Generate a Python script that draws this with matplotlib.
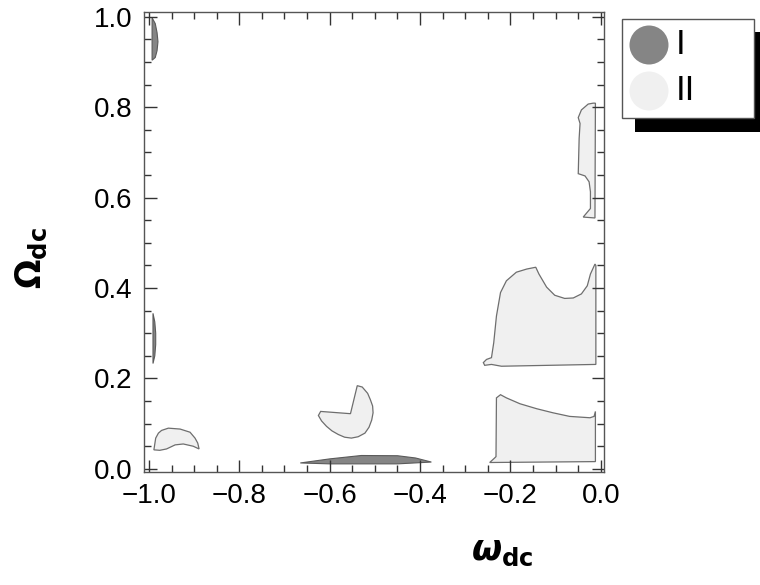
import matplotlib
matplotlib.use("Agg")
import matplotlib.pyplot as plt
from matplotlib.patches import Polygon, Rectangle, Ellipse
from matplotlib.ticker import MultipleLocator

plt.rcParams["font.family"] = ["Liberation Sans", "DejaVu Sans"]
plt.rcParams["mathtext.fontset"] = "custom"
plt.rcParams["mathtext.rm"] = "DejaVu Sans:bold"
plt.rcParams["mathtext.it"] = "DejaVu Sans:bold:italic"
plt.rcParams["mathtext.bf"] = "DejaVu Sans:bold"

# region outlines (omega_dc, Omega_dc)
region_I_top_x = [-0.993, -0.986, -0.982, -0.980, -0.982, -0.986, -0.993, -0.993]
region_I_top_y = [0.998, 0.985, 0.965, 0.945, 0.925, 0.910, 0.904, 0.998]

region_I_mid_x = [-0.991, -0.987, -0.985, -0.985, -0.987, -0.991, -0.991]
region_I_mid_y = [0.344, 0.325, 0.300, 0.275, 0.250, 0.233, 0.344]

region_I_bottom_x = [-0.665, -0.60, -0.53, -0.45, -0.41, -0.375, -0.45, -0.60]
region_I_bottom_y = [0.013, 0.022, 0.0295, 0.029, 0.024, 0.015, 0.011, 0.011]

region_II_crescent_x = [-0.989, -0.985, -0.979, -0.972, -0.957, -0.931, -0.909,
                        -0.898, -0.892, -0.889, -0.902, -0.924, -0.942, -0.961,
                        -0.976]
region_II_crescent_y = [0.042, 0.068, 0.079, 0.085, 0.090, 0.088, 0.081,
                        0.068, 0.057, 0.044, 0.050, 0.055, 0.053, 0.044,
                        0.041]

region_II_pacman_x = [-0.539, -0.528, -0.516, -0.510, -0.505, -0.504, -0.507,
                      -0.513, -0.522, -0.537, -0.552, -0.567, -0.581, -0.595,
                      -0.607, -0.618, -0.625, -0.620, -0.554]
region_II_pacman_y = [0.184, 0.181, 0.167, 0.153, 0.139, 0.124, 0.108,
                      0.092, 0.079, 0.071, 0.068, 0.070, 0.076, 0.084,
                      0.094, 0.106, 0.118, 0.127, 0.122]

region_II_tall_x = [-0.017, -0.028, -0.043, -0.050, -0.046, -0.048, -0.050,
                    -0.035, -0.026, -0.023, -0.023, -0.039, -0.013, -0.012]
region_II_tall_y = [0.809, 0.807, 0.794, 0.777, 0.764, 0.731, 0.653,
                    0.648, 0.635, 0.613, 0.576, 0.557, 0.555, 0.809]

region_II_big_x = [-0.260, -0.253, -0.242, -0.237, -0.231, -0.222, -0.209,
                   -0.187, -0.164, -0.144, -0.137, -0.120, -0.102, -0.080,
                   -0.061, -0.043, -0.030, -0.023, -0.013, -0.011, -0.011,
                   -0.220, -0.242, -0.257]
region_II_big_y = [0.235, 0.242, 0.246, 0.279, 0.338, 0.390, 0.416,
                   0.435, 0.442, 0.446, 0.431, 0.402, 0.384, 0.377,
                   0.378, 0.387, 0.405, 0.431, 0.453, 0.450, 0.231,
                   0.227, 0.231, 0.229]

region_II_low_x = [-0.246, -0.235, -0.232, -0.231, -0.222, -0.209, -0.179,
                   -0.142, -0.106, -0.069, -0.024, -0.015, -0.012, -0.012]
region_II_low_y = [0.014, 0.024, 0.027, 0.157, 0.164, 0.157, 0.144,
                   0.133, 0.124, 0.116, 0.113, 0.116, 0.127, 0.016]

regions_I = [
    (region_I_top_x, region_I_top_y),
    (region_I_mid_x, region_I_mid_y),
    (region_I_bottom_x, region_I_bottom_y),
]
regions_II = [
    (region_II_crescent_x, region_II_crescent_y),
    (region_II_pacman_x, region_II_pacman_y),
    (region_II_tall_x, region_II_tall_y),
    (region_II_big_x, region_II_big_y),
    (region_II_low_x, region_II_low_y),
]

legend_labels = ["I", "II"]
color_I = "#858585"
color_II = "#f0f0f0"

W, H = 760, 585
fig = plt.figure(figsize=(W / 100, H / 100), dpi=100)
ax = fig.add_axes([143.5 / W, (H - 472) / H, 460.5 / W, 459.7 / H])

for xs, ys in regions_I:
    ax.add_patch(Polygon(list(zip(xs, ys)), closed=True, facecolor=color_I,
                         edgecolor="#5a5a5a", linewidth=0.8))
for xs, ys in regions_II:
    ax.add_patch(Polygon(list(zip(xs, ys)), closed=True, facecolor=color_II,
                         edgecolor="#6e6e6e", linewidth=0.9))

ax.set_xlim(-1.012, 0.007)
ax.set_ylim(-0.007, 1.010)
ax.xaxis.set_major_locator(MultipleLocator(0.2))
ax.xaxis.set_minor_locator(MultipleLocator(0.05))
ax.yaxis.set_major_locator(MultipleLocator(0.2))
ax.yaxis.set_minor_locator(MultipleLocator(0.05))
ax.xaxis.set_major_formatter(lambda v, p: f"{v:.1f}".replace("-", "\u2212")
                             if abs(v) > 1e-9 else "0.0")
ax.yaxis.set_major_formatter(lambda v, p: f"{v:.1f}" if abs(v) > 1e-9 else "0.0")

ax.tick_params(which="both", direction="in", top=True, right=True,
               color="#333333", width=1, labelsize=20, pad=8)
ax.tick_params(which="major", length=9)
ax.tick_params(which="minor", length=5)
for s in ax.spines.values():
    s.set_color("#555555")
    s.set_linewidth(1)

fig.text(502 / W, 1 - 551 / H, r"$\omega_{\mathrm{dc}}$", fontsize=25,
         ha="center", va="center")
fig.text(31 / W, 1 - 258 / H, r"$\Omega_{\mathrm{dc}}$", fontsize=25,
         ha="center", va="center", rotation=90)

# legend box with hard black shadow
fig.patches.append(Rectangle((635 / W, 1 - 132 / H), 132 / W, 100 / H,
                             transform=fig.transFigure, facecolor="black",
                             edgecolor="none", zorder=1))
fig.patches.append(Rectangle((622 / W, 1 - 118 / H), 132 / W, 99 / H,
                             transform=fig.transFigure, facecolor="white",
                             edgecolor="#555555", linewidth=1, zorder=2))
for i, (lab, col) in enumerate(zip(legend_labels, [color_I, color_II])):
    cy = 45 + 46 * i
    fig.patches.append(Ellipse((649 / W, 1 - cy / H), 39 / W, 39 / H,
                               transform=fig.transFigure, facecolor=col,
                               edgecolor="none", zorder=3))
    fig.text(676 / W, 1 - cy / H, lab, fontsize=25, ha="left", va="center",
             zorder=4)

fig.savefig("out.png", dpi=100)
